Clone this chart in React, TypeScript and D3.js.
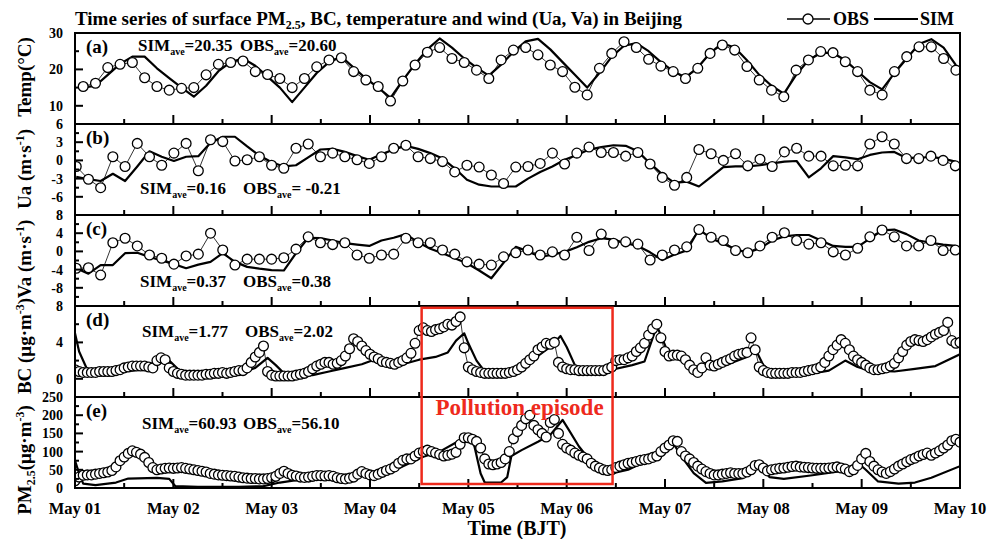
import * as d3 from 'd3'

const W = 990
const H = 539
const X0 = 75
const X1 = 960
const TOP = 33
const PH = 91
const FONT = '"Liberation Serif", "Times New Roman", serif'
const RED = '#ee2a1c'

const DAY_LABELS = ['May 01', 'May 02', 'May 03', 'May 04', 'May 05', 'May 06', 'May 07', 'May 08', 'May 09', 'May 10']

// (a) temperature, 3-hourly, starting 02 BJT
const TEMP_OBS = [15.3, 16.2, 20.5, 21.4, 21.9, 17.7, 15.3, 14.3, 14.8, 15.0, 18.5, 21.4, 21.9, 22.3, 19.4, 18.6, 17.5, 15.0, 17.5, 20.7,
  22.6, 23.2, 19.4, 17.1, 15.3, 11.3, 16.8, 21.2, 24.7, 26.0, 23.0, 21.9, 19.8, 17.5, 22.6, 25.3, 26.0, 24.0, 21.2, 19.4,
  15.1, 13.0, 20.3, 24.4, 27.6, 26.0, 22.8, 20.9, 19.4, 17.5, 20.3, 24.4, 26.7, 25.3, 20.8, 17.1, 14.3, 12.5, 19.8, 22.6,
  24.9, 24.6, 22.1, 19.4, 14.3, 13.0, 19.4, 23.5, 26.2, 26.2, 23.0, 19.8]
const TEMP_SIM = [15.0, 15.5, 18.5, 21.5, 23.5, 23.5, 20.3, 17.6, 15.0, 12.5, 15.5, 19.5, 22, 23, 21, 18, 15, 11, 15, 19,
  22, 23.5, 20.5, 17.5, 15, 12.2, 17, 21.5, 25.5, 28.5, 26, 23, 20.5, 18.3, 21.3, 24.8, 27.7, 28.4, 25.5, 22,
  18.5, 15, 19, 23.5, 26.5, 27.2, 25, 22, 19.5, 17.8, 20.5, 24.5, 27.2, 26, 22.5, 18.5, 15.5, 13.3, 18.5, 22.5,
  24.5, 24.5, 22.5, 19.5, 16.5, 14.5, 19, 23, 27, 28.3, 26, 21.2]

// (b) Ua and (c) Va, 3-hourly
const UA_OBS = [-1.0, -3.1, -4.5, 0.6, -1.0, 2.8, 0.6, -0.8, 1.2, 2.8, -1.7, 3.4, 3.1, -0.1, 0.1, 0.6, -0.8, -1.3, 2.0, 2.7,
  0.6, 1.2, 0.6, 0.1, -0.5, 0.6, 2.0, 2.5, 0.6, 0.3, -0.2, -1.9, -0.8, -1.1, -2.4, -3.8, -1.1, -1.0, -0.5, 1.2,
  -0.6, 1.2, 2.2, 1.3, 1.3, 0.7, 1.3, -0.6, -2.8, -4.1, -2.8, 1.8, 1.1, 0.0, 1.1, -0.9, 0.2, -1.0, 1.4, 2.0,
  0.7, 0.7, -0.9, -0.8, -0.9, 2.7, 3.9, 2.7, 0.3, 0.3, 0.7, 0.0, -0.9]
const UA_SIM = [-2.7, -3.1, -3.4, -2.2, -3.4, -1.0, 1.5, 0.6, -0.1, 0.6, 0.7, 2.9, 3.9, 3.9, 2.3, 0.8, -0.3, -1.0, -0.8, 0.5,
  1.8, 1.9, 1.4, 0.7, 0.1, 1.0, 1.8, 2.4, 1.9, 1.2, 0.3, -1.3, -3.2, -4.0, -4.3, -4.3, -4.3, -3.0, -1.9, -1.0,
  0.1, 0.9, 1.8, 2.2, 2.5, 2.4, 1.5, -0.5, -2.3, -3.7, -3.5, -4.3, -2.7, -1.1, -1.0, -1.0, -0.8, -0.5, -0.2, -0.1,
  -2.8, -1.3, 0.7, 0.5, 0.2, 0.9, 1.3, 1.4, 0.4, 0.4, 0.6, 0.3, -0.2]
const VA_OBS = [-3.7, -3.6, -5.2, 1.9, 2.9, 1.2, -0.8, -1.5, -2.8, -1.0, -0.6, 4.0, 0.3, -3.0, -1.7, -1.7, -1.7, -1.4, 0.5, 3.2,
  1.9, 1.5, 1.9, -0.8, -1.5, -0.8, -0.6, 2.9, 1.9, 1.9, 0.3, -0.6, -2.3, -2.8, -3.0, -1.2, -0.3, 0.3, -0.8, -0.1,
  -0.8, 3.1, 0.2, 3.8, 1.8, 2.1, 1.6, -1.9, -0.8, 0.3, 1.0, 4.8, 3.1, 2.4, 0.2, -0.3, 1.2, 3.1, 4.1, 2.4,
  1.6, 1.9, -0.1, -0.8, 0.7, 3.2, 4.7, 3.2, 1.2, 1.2, 2.4, 0.2, 0.3]
const VA_SIM = [-3.7, -4.9, -3.0, -3.0, -0.4, -0.3, -1.2, -2.0, -2.8, -3.7, -2.9, -2.3, -0.4, -2.3, -3.4, -3.8, -4.1, -4.2, -0.4, 3.0,
  2.9, 2.4, 1.8, 1.5, 1.2, 2.4, 3.0, 3.8, 2.0, 0.6, -0.4, -1.5, -2.6, -4.2, -5.9, -2.5, 1.0, 0.0, -1.2, -0.7,
  -0.1, 0.9, 2.1, 2.9, 2.6, 1.8, 1.2, -0.2, -1.9, -0.7, 0.2, 4.8, 2.9, 1.7, 0.5, -0.3, 0.7, 2.4, 3.3, 3.6,
  3.6, 2.4, 1.2, 1.0, 1.0, 2.8, 4.6, 4.8, 3.8, 2.4, 1.9, 1.5, 1.2]

// (d) BC, hourly observations
const BC_OBS = [
  1.0, 0.8, 0.7, 0.7, 0.7, 0.7, 0.8, 0.8, 0.8, 0.8, 0.9, 1.0, 1.2, 1.3, 1.4, 1.4, 1.4, 1.4, 1.3, 1.2, 2.0, 2.3, 2.1, 1.2,
  0.8, 0.6, 0.5, 0.4, 0.4, 0.4, 0.4, 0.4, 0.5, 0.5, 0.6, 0.6, 0.7, 0.6, 0.7, 0.8, 0.9, 0.9, 1.2, 1.8, 2.4, 2.9, 3.6, 0.8,
  0.4, 0.3, 0.3, 0.3, 0.3, 0.3, 0.4, 0.5, 0.6, 0.8, 1.1, 1.4, 1.6, 1.8, 1.8, 1.6, 1.7, 2.0, 2.5, 3.3, 4.4, 4.1, 3.6, 3.1,
  2.7, 2.4, 2.2, 1.9, 1.8, 1.7, 1.6, 1.8, 2.0, 2.3, 2.8, 3.9, 5.3, 5.6, 5.3, 5.2, 5.4, 5.5, 5.7, 6.0, 5.9, 6.3, 6.8, 3.4,
  1.3, 1.0, 0.8, 0.7, 0.6, 0.6, 0.6, 0.6, 0.6, 0.6, 0.7, 0.8, 1.0, 1.3, 1.7, 2.1, 2.5, 3.2, 3.5, 3.9, 3.8, 4.0, 1.8, 1.3,
  1.1, 1.0, 1.0, 0.9, 0.9, 0.9, 0.9, 0.9, 0.9, 0.9, 1.1, 1.3, 2.0, 2.1, 2.1, 2.3, 2.5, 3.0, 3.4, 3.9, 4.8, 5.5, 6.0, 4.5,
  3.0, 2.5, 2.6, 2.6, 2.5, 2.1, 1.5, 1.0, 0.7, 1.2, 2.3, 1.5, 1.4, 1.6, 1.8, 2.0, 2.2, 2.5, 2.7, 2.8, 2.9, 4.5, 3.2, 1.3,
  0.9, 0.7, 0.6, 0.6, 0.6, 0.6, 0.6, 0.7, 0.7, 0.7, 0.8, 0.9, 1.0, 1.1, 1.3, 1.8, 2.5, 3.2, 3.7, 4.3, 3.9, 3.2, 2.5, 2.1,
  1.8, 1.5, 1.2, 1.0, 1.0, 1.1, 1.2, 1.4, 1.7, 2.3, 3.0, 3.7, 4.1, 4.3, 4.2, 4.1, 4.3, 4.6, 4.9, 5.1, 5.3, 6.2, 4.2, 3.9,
  4.0]
const BC_SIM_HOURS = [0, 1, 3, 8, 14, 18, 21, 23, 26, 32, 40, 44, 47, 49, 51, 58, 62, 66, 70, 73, 76, 80, 84, 88, 91, 93, 95, 96, 98, 100,
  105, 108, 112, 116, 118.5, 120, 122, 124, 131, 136, 139, 142, 143, 145, 149, 152, 155, 160, 164, 166, 168, 170, 180, 184, 188, 191,
  194, 200, 205, 210, 216]
const BC_SIM = [5.0, 3.0, 1.0, 0.8, 0.9, 1.2, 2.3, 2.0, 0.7, 0.5, 0.6, 1.2, 2.3, 1.5, 0.6, 0.4, 0.8, 1.2, 1.6, 2.1, 1.7, 1.6, 2.1, 2.4, 2.9,
  4.2, 5.0, 3.9, 2.0, 0.8, 0.6, 0.9, 2.2, 3.5, 4.7, 3.5, 1.5, 1.0, 1.0, 1.5, 1.9, 5.8, 4.8, 2.6, 2.0, 0.9, 1.2, 1.7, 2.4, 3.3,
  1.5, 0.8, 0.6, 0.9, 2.0, 1.3, 0.9, 0.8, 1.1, 1.4, 2.7]

// (e) PM2.5, hourly observations
const PM_OBS = [
  20, 30, 35, 36, 36, 38, 40, 42, 44, 48, 58, 75, 85, 95, 102, 98, 93, 84, 70, 56, 50, 52, 54, 55,
  54, 55, 56, 54, 52, 50, 48, 46, 44, 40, 38, 36, 35, 34, 33, 32, 30, 28, 27, 26, 26, 25, 25, 26,
  28, 32, 40, 46, 40, 35, 33, 30, 29, 30, 32, 34, 34, 33, 34, 32, 28, 26, 25, 27, 30, 38, 45, 40,
  36, 34, 38, 43, 48, 52, 58, 68, 76, 80, 80, 88, 96, 100, 104, 100, 96, 92, 88, 90, 93, 98, 120, 138,
  138, 134, 128, 110, 80, 66, 64, 66, 70, 80, 100, 135, 155, 172, 190, 200, 172, 160, 150, 140, 180, 188, 150, 120,
  110, 104, 96, 90, 85, 80, 68, 60, 55, 50, 48, 50, 56, 60, 64, 68, 70, 73, 76, 78, 80, 84, 88, 100,
  110, 118, 130, 128, 100, 88, 80, 70, 60, 52, 45, 40, 36, 36, 38, 40, 42, 40, 40, 40, 44, 50, 62, 64,
  55, 47, 50, 52, 54, 55, 57, 59, 60, 58, 57, 56, 55, 54, 54, 54, 55, 56, 58, 55, 52, 45, 50, 62,
  80, 95, 73, 60, 50, 44, 40, 45, 52, 60, 66, 72, 78, 82, 88, 92, 96, 90, 96, 102, 110, 118, 130, 134,
  126]
const PM_SIM_HOURS = [0, 1, 2, 5, 10, 13, 20, 23, 24.5, 30, 40, 46, 50, 56, 62, 68, 74, 79, 85, 89, 93, 96, 97.5, 99, 100, 104, 105.5, 106.5,
  109, 113, 116, 119, 120.3, 123, 125, 128, 131, 135, 140, 144, 146.3, 148.3, 151, 154, 158, 163, 167, 169.5, 173, 180, 186, 190, 191,
  193, 196, 201, 205, 209, 216]
const PM_SIM = [75, 40, 12, 8, 15, 26, 28, 25, 5, 3, 3, 5, 15, 25, 30, 35, 40, 54, 86, 100, 125, 146, 114, 40, 15, 15, 30, 88,
  104, 127, 146, 187, 164, 114, 86, 63, 40, 50, 77, 100, 118, 82, 41, 14, 18, 27, 66, 30, 25, 35, 45, 63, 70,
  50, 18, 12, 15, 28, 60]

const EPISODE = [84.6, 131.2] // hours since May 01 00 BJT

const x = d3.scaleLinear().domain([0, 216]).range([X0, X1])
const threeHourly = (n: number, start: number, step: number) => d3.range(n).map((i) => start + step * i)

interface Panel {
  key: string
  tag: string
  domain: [number, number]
  major: number[]
  minor: number[]
  obsH: number[]
  obs: number[]
  simH: number[]
  sim: number[]
  stat: { sim: string; obs: string; x: number; ox: number; dy: number }
}

const PANELS: Panel[] = [
  { key: 'a', tag: '(a)', domain: [5, 30], major: [30, 20, 10], minor: [25, 15],
    obsH: threeHourly(TEMP_OBS.length, 2, 3), obs: TEMP_OBS, simH: threeHourly(TEMP_SIM.length, 2, 3), sim: TEMP_SIM,
    stat: { sim: '20.35', obs: '20.60', x: 138, ox: 240, dy: 18 } },
  { key: 'b', tag: '(b)', domain: [-9, 6], major: [6, 3, 0, -3, -6], minor: [4.5, 1.5, -1.5, -4.5],
    obsH: threeHourly(UA_OBS.length, 0.3, 2.98), obs: UA_OBS, simH: threeHourly(UA_SIM.length, 0.3, 2.98), sim: UA_SIM,
    stat: { sim: '0.16', obs: '\u00a0-0.21', x: 140, ox: 243, dy: 70 } },
  { key: 'c', tag: '(c)', domain: [-12, 8], major: [8, 4, 0, -4, -8], minor: [6, 2, -2, -6, -10],
    obsH: threeHourly(VA_OBS.length, 0.3, 2.98), obs: VA_OBS, simH: threeHourly(VA_SIM.length, 0.3, 2.98), sim: VA_SIM,
    stat: { sim: '0.37', obs: '0.38', x: 140, ox: 243, dy: 72 } },
  { key: 'd', tag: '(d)', domain: [-2, 8], major: [8, 4, 0], minor: [6, 2],
    obsH: d3.range(BC_OBS.length), obs: BC_OBS, simH: BC_SIM_HOURS, sim: BC_SIM,
    stat: { sim: '1.77', obs: '2.02', x: 142, ox: 245, dy: 31 } },
  { key: 'e', tag: '(e)', domain: [0, 250], major: [250, 200, 150, 100, 50, 0], minor: [225, 175, 125, 75, 25],
    obsH: d3.range(PM_OBS.length), obs: PM_OBS, simH: PM_SIM_HOURS, sim: PM_SIM,
    stat: { sim: '60.93', obs: '56.10', x: 142, ox: 243, dy: 32 } },
]

function yScale(i: number) {
  const p = PANELS[i]
  return d3.scaleLinear().domain(p.domain).range([TOP + PH * (i + 1), TOP + PH * i])
}

function StatText({ x0, y0, name, value }: { x0: number; y0: number; name: string; value: string }) {
  return (
    <text x={x0} y={y0} fontSize={17} fontWeight="bold">
      {name}<tspan fontSize={10} dy={4}>ave</tspan><tspan dy={-4}>={value}</tspan>
    </text>
  )
}

function PanelView({ p, i }: { p: Panel; i: number }) {
  const y = yScale(i)
  const top = TOP + PH * i
  const bot = top + PH
  const obsPts = p.obsH.map((h, k) => [x(h), y(p.obs[k])] as [number, number])
  const simPts = p.simH.map((h, k) => [x(h), y(p.sim[k])] as [number, number])
  const line = d3.line()
  const dayTicks = d3.range(0, 217, 24)
  const halfTicks = d3.range(12, 217, 24)
  return (
    <g>
      <clipPath id={`clip-${p.key}`}><rect x={X0} y={top} width={X1 - X0} height={PH} /></clipPath>
      <g clipPath={`url(#clip-${p.key})`}>
        <path d={line(obsPts) ?? ''} fill="none" stroke="#000" strokeWidth={0.8} />
        <path d={line(simPts) ?? ''} fill="none" stroke="#000" strokeWidth={2.2} strokeLinejoin="round" />
        {obsPts.map((pt, k) => (
          <circle key={k} cx={pt[0]} cy={pt[1]} r={4.9} fill="#fff" stroke="#000" strokeWidth={1.3} />
        ))}
      </g>
      {dayTicks.map((h) => <line key={`M${h}`} x1={x(h)} x2={x(h)} y1={bot} y2={bot - 9} stroke="#000" strokeWidth={2} />)}
      {halfTicks.map((h) => <line key={`m${h}`} x1={x(h)} x2={x(h)} y1={bot} y2={bot - 5} stroke="#000" strokeWidth={2} />)}
      {p.major.map((v) => <line key={`yM${v}`} x1={X0} x2={X0 + 8} y1={y(v)} y2={y(v)} stroke="#000" strokeWidth={2} />)}
      {p.minor.map((v) => <line key={`ym${v}`} x1={X0} x2={X0 + 4} y1={y(v)} y2={y(v)} stroke="#000" strokeWidth={2} />)}
      {p.major.map((v) => (
        <text key={`yl${v}`} x={X0 - 12} y={y(v)} dy="0.35em" textAnchor="end" fontSize={14} fontWeight="bold">{v}</text>
      ))}
      <rect x={X0} y={top} width={X1 - X0} height={PH} fill="none" stroke="#000" strokeWidth={2} />
      <text x={86} y={top + 20} fontSize={19} fontWeight="bold">{p.tag}</text>
      <StatText x0={p.stat.x} y0={top + p.stat.dy} name="SIM" value={p.stat.sim} />
      <StatText x0={p.stat.ox} y0={top + p.stat.dy} name="OBS" value={p.stat.obs} />
    </g>
  )
}

function YTitle({ cy, children }: { cy: number; children: React.ReactNode }) {
  return (
    <text transform={`translate(31,${cy}) rotate(-90)`} textAnchor="middle" fontSize={19} fontWeight="bold">{children}</text>
  )
}

export default function App() {
  const yd = yScale(3)
  const ye = yScale(4)
  return (
    <div style={{ position: 'absolute', left: 0, top: 0, width: W, height: H, background: '#fff' }}>
      <svg width={W} height={H} fontFamily={FONT} style={{ display: 'block' }}>
        <rect width={W} height={H} fill="#fff" />
        <text x={75} y={25} fontSize={19} fontWeight="bold">
          Time series of surface PM<tspan fontSize={12} dy={4}>2.5</tspan><tspan dy={-4}>, BC, temperature and wind (Ua, Va) in Beijing</tspan>
        </text>
        <line x1={787} x2={830} y1={19} y2={19} stroke="#000" strokeWidth={1.3} />
        <circle cx={808} cy={19} r={5} fill="#fff" stroke="#000" strokeWidth={1.3} />
        <text x={833} y={25} fontSize={18} fontWeight="bold">OBS</text>
        <line x1={874} x2={918} y1={19} y2={19} stroke="#000" strokeWidth={2.2} />
        <text x={920} y={25} fontSize={18} fontWeight="bold">SIM</text>

        {PANELS.map((p, i) => <PanelView key={p.key} p={p} i={i} />)}

        <rect x={x(EPISODE[0])} y={yd(7.8)} width={x(EPISODE[1]) - x(EPISODE[0])} height={ye(11) - yd(7.8)}
          fill="none" stroke={RED} strokeWidth={2.5} />
        <text x={x(88)} y={ye(200)} fontSize={23} fontWeight="bold" fill={RED}>Pollution episode</text>

        {DAY_LABELS.map((d, k) => (
          <text key={d} x={x(k * 24)} y={514} textAnchor="middle" fontSize={16.5} fontWeight="bold">{d}</text>
        ))}
        <text x={517} y={535} textAnchor="middle" fontSize={20} fontWeight="bold">Time (BJT)</text>

        <YTitle cy={77}>Temp(°C)</YTitle>
        <YTitle cy={169}>Ua (m·s<tspan fontSize={12} dy={-7}>-1</tspan><tspan dy={7}>)</tspan></YTitle>
        <YTitle cy={259}>Va (m·s<tspan fontSize={12} dy={-7}>-1</tspan><tspan dy={7}>)</tspan></YTitle>
        <YTitle cy={346}>BC (μg·m<tspan fontSize={12} dy={-7}>-3</tspan><tspan dy={7}>)</tspan></YTitle>
        <YTitle cy={460}>PM<tspan fontSize={12} dy={4}>2.5</tspan><tspan dy={-4}>(μg·m</tspan><tspan fontSize={12} dy={-7}>-3</tspan><tspan dy={7}>)</tspan></YTitle>
      </svg>
    </div>
  )
}
